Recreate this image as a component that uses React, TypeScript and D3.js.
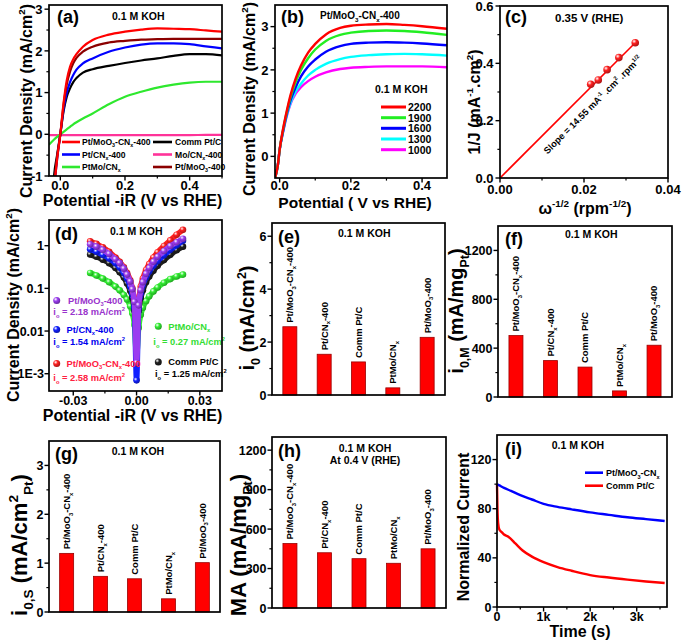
import React from "react";
import * as d3 from "d3";

const FONT = "'Liberation Sans', Arial, Helvetica, sans-serif";

// ---------------- (a) LSV, 0.1 M KOH ----------------
const aPotential = [-0.035, -0.02, -0.01, 0, 0.01, 0.02, 0.03, 0.04, 0.05, 0.07, 0.1, 0.15, 0.2, 0.25, 0.3, 0.35, 0.4, 0.45, 0.5];
const aPtMoO3CNx = [-3, -1.4, -0.6, 0, 0.75, 1.3, 1.62, 1.8, 1.92, 2.1, 2.26, 2.39, 2.46, 2.51, 2.54, 2.53, 2.52, 2.49, 2.46];
const aPtCNx = [-3, -1.4, -0.6, 0, 0.6, 1.0, 1.25, 1.42, 1.55, 1.7, 1.82, 1.98, 2.08, 2.15, 2.18, 2.18, 2.16, 2.11, 2.06];
const aPtMoCNx = [-0.25, -0.13, -0.06, 0, 0.06, 0.12, 0.18, 0.24, 0.29, 0.38, 0.5, 0.72, 0.9, 1.02, 1.12, 1.19, 1.24, 1.26, 1.26];
const aCommPtC = [-3.5, -1.05, -0.5, 0, 0.55, 0.9, 1.1, 1.25, 1.35, 1.48, 1.56, 1.64, 1.71, 1.77, 1.82, 1.88, 1.92, 1.92, 1.89];
const aMoCNx = [-0.02, -0.02, -0.02, -0.02, -0.02, -0.02, -0.02, -0.02, -0.02, -0.02, -0.02, -0.02, -0.02, -0.02, -0.02, -0.02, -0.02, -0.015, -0.015];
const aPtMoO3 = [-3, -1.3, -0.55, 0, 0.7, 1.2, 1.5, 1.7, 1.83, 1.98, 2.1, 2.2, 2.24, 2.27, 2.28, 2.29, 2.29, 2.29, 2.29];

// ---------------- (b) rotation rates ----------------
const bPotential = [-0.013, -0.005, 0.0, 0.01, 0.02, 0.03, 0.045, 0.06, 0.08, 0.1, 0.13, 0.17, 0.2, 0.25, 0.3, 0.35, 0.4, 0.47];
const b2200 = [-0.5, -0.2, 0.15, 0.65, 1.05, 1.4, 1.8, 2.1, 2.4, 2.6, 2.82, 2.97, 3.02, 3.05, 3.06, 3.04, 3.01, 2.95];
const b1900 = [-0.5, -0.2, 0.15, 0.63, 1.02, 1.35, 1.72, 2.0, 2.27, 2.47, 2.67, 2.81, 2.86, 2.9, 2.91, 2.9, 2.87, 2.81];
const b1600 = [-0.5, -0.2, 0.15, 0.6, 0.98, 1.28, 1.6, 1.85, 2.08, 2.24, 2.42, 2.55, 2.6, 2.63, 2.64, 2.63, 2.61, 2.57];
const b1300 = [-0.5, -0.2, 0.15, 0.58, 0.95, 1.22, 1.5, 1.68, 1.87, 2.0, 2.14, 2.25, 2.3, 2.34, 2.36, 2.37, 2.36, 2.33];
const b1000 = [-0.5, -0.2, 0.15, 0.57, 0.93, 1.2, 1.45, 1.6, 1.74, 1.84, 1.94, 2.02, 2.05, 2.07, 2.08, 2.08, 2.08, 2.06];
const bRates = ["2200", "1900", "1600", "1300", "1000"];

// ---------------- (c) K-L plot ----------------
const cOmega = [0.0216, 0.0234, 0.0255, 0.0283, 0.0322];
const cInvJ = [0.327, 0.342, 0.378, 0.42, 0.472];
const cFitX = [0, 0.0322];
const cFitY = [0, 0.472];

// ---------------- (d) micro-polarization ----------------
const dPotential = [-0.022, -0.019, -0.016, -0.013, -0.01, -0.008, -0.006, -0.0045, -0.003, -0.002, -0.001, 0, 0.001, 0.002, 0.003, 0.0045, 0.006, 0.008, 0.01, 0.013, 0.016, 0.019, 0.022];
const dPtMoO3CNx = [1.27, 1.1, 0.92, 0.72, 0.53, 0.42, 0.31, 0.23, 0.155, 0.1, 0.05, 0.012, 0.05, 0.11, 0.17, 0.27, 0.37, 0.53, 0.7, 0.98, 1.33, 1.8, 2.35];
const dPtMoO3 = [1.08, 0.95, 0.8, 0.64, 0.48, 0.39, 0.29, 0.21, 0.145, 0.095, 0.048, 0.0018, 0.04, 0.09, 0.14, 0.22, 0.3, 0.42, 0.55, 0.75, 0.98, 1.2, 1.45];
const dPtCNx = [0.82, 0.72, 0.61, 0.5, 0.39, 0.31, 0.23, 0.17, 0.11, 0.075, 0.035, 0.0007, 0.035, 0.075, 0.12, 0.18, 0.25, 0.34, 0.44, 0.6, 0.8, 1.03, 1.3];
const dCommPtC = [0.62, 0.55, 0.47, 0.39, 0.3, 0.24, 0.18, 0.13, 0.088, 0.06, 0.03, 0.006, 0.03, 0.06, 0.09, 0.14, 0.19, 0.26, 0.34, 0.46, 0.61, 0.78, 0.95];
const dPtMoCNx = [0.23, 0.2, 0.17, 0.14, 0.11, 0.09, 0.07, 0.055, 0.038, 0.026, 0.014, 0.0027, 0.012, 0.024, 0.035, 0.05, 0.065, 0.085, 0.105, 0.135, 0.165, 0.19, 0.21];

// ---------------- bar panels ----------------
const barCats = ["Pt/MoO3-CNx-400", "Pt/CNx-400", "Comm Pt/C", "PtMo/CNx", "Pt/MoO3-400"];
const eI0 = [2.58, 1.54, 1.25, 0.27, 2.18];
const fI0M = [503, 298, 245, 50, 424];
const gI0S = [1.2, 0.73, 0.68, 0.27, 1.01];
const hMA = [490, 420, 375, 340, 450];

// ---------------- (i) chronoamperometry ----------------
const iTimeBlue = [0, 50, 150, 300, 500, 750, 1000, 1300, 1600, 2000, 2400, 2800, 3200, 3600];
const iPtMoO3CNx = [100, 99, 97, 94.5, 91, 87.5, 84, 81.5, 79.5, 77, 75, 73, 71.5, 70];
const iTimeRed = [0, 10, 25, 50, 100, 150, 250, 400, 550, 750, 1000, 1300, 1600, 2000, 2400, 2800, 3200, 3600];
const iCommPtC = [100, 80, 68, 63, 61, 59, 57, 51.5, 46, 41, 36.5, 32.5, 29.5, 26, 24, 22.3, 20.8, 19.5];

type Part = [string, string?];

function rich(parts: Part[], fs: number) {
  let cur = 0;
  return parts.map(([t, k], i) => {
    const target = k === "b" ? fs * 0.28 : k === "p" ? -fs * 0.42 : 0;
    const dy = target - cur;
    cur = target;
    return (
      <tspan key={i} dy={dy} fontSize={k ? fs * 0.62 : fs}>
        {t}
      </tspan>
    );
  });
}

function label(name: string): Part[] {
  const map: Record<string, Part[]> = {
    "Pt/MoO3-CNx-400": [["Pt/MoO"], ["3", "b"], ["-CN"], ["x", "b"], ["-400"]],
    "Pt/CNx-400": [["Pt/CN"], ["x", "b"], ["-400"]],
    "Comm Pt/C": [["Comm Pt/C"]],
    "PtMo/CNx": [["PtMo/CN"], ["x", "b"]],
    "Pt/MoO3-400": [["Pt/MoO"], ["3", "b"], ["-400"]],
    "Mo/CNx-400": [["Mo/CN"], ["x", "b"], ["-400"]],
    "Pt/MoO3-CNx": [["Pt/MoO"], ["3", "b"], ["-CN"], ["x", "b"]],
  };
  return map[name] || [[name]];
}

function Frame(p: any) {
  const { L, R, T, B, xs, ys, xTicks = [], xMinor = [], yTicks = [], yMinor = [], xFmt, yFmt, tk = 13, gap = 6.5, xgap = 13.5 } = p;
  return (
    <g>
      {yMinor.map((v: number, i: number) => (
        <line key={"ym" + i} x1={L - 2.6} x2={L} y1={ys(v)} y2={ys(v)} stroke="#000" strokeWidth={1.2} />
      ))}
      {yTicks.map((v: number, i: number) => (
        <g key={"y" + i}>
          <line x1={L - 4.5} x2={L} y1={ys(v)} y2={ys(v)} stroke="#000" strokeWidth={1.4} />
          <text x={L - gap} y={ys(v)} dy="0.36em" textAnchor="end" fontSize={tk} fontWeight="bold">
            {yFmt ? yFmt(v) : String(v)}
          </text>
        </g>
      ))}
      {xMinor.map((v: number, i: number) => (
        <line key={"xm" + i} x1={xs(v)} x2={xs(v)} y1={B} y2={B + 2.6} stroke="#000" strokeWidth={1.2} />
      ))}
      {xTicks.map((v: number, i: number) => (
        <g key={"x" + i}>
          <line x1={xs(v)} x2={xs(v)} y1={B} y2={B + 4.5} stroke="#000" strokeWidth={1.4} />
          <text x={xs(v)} y={B + xgap} textAnchor="middle" fontSize={tk} fontWeight="bold">
            {xFmt ? xFmt(v) : String(v)}
          </text>
        </g>
      ))}
      <rect x={L} y={T} width={R - L} height={B - T} fill="none" stroke="#000" strokeWidth={1.7} />
    </g>
  );
}

function YTitle({ x, y, parts, fs = 16 }: any) {
  return (
    <text transform={`translate(${x},${y}) rotate(-90)`} textAnchor="middle" fontSize={fs} fontWeight="bold">
      {rich(parts, fs)}
    </text>
  );
}

function XTitle({ x, y, parts, fs = 16 }: any) {
  return (
    <text x={x} y={y} textAnchor="middle" fontSize={fs} fontWeight="bold">
      {rich(parts, fs)}
    </text>
  );
}

function lineOf(xs: any, ys: any, X: number[], Y: number[]) {
  const pts = X.map((x, i) => [x, Y[i]] as [number, number]);
  return d3
    .line<[number, number]>()
    .x((d) => xs(d[0]))
    .y((d) => ys(d[1]))
    .curve(d3.curveMonotoneX)(pts) as string;
}

function BarPanel(p: any) {
  const { L, R, T, B, max, yTicks, yMinor, values, letter, letterPos, head } = p;
  const ys = d3.scaleLinear().domain([0, max]).range([B, T]);
  const xs = d3.scalePoint<string>().domain(barCats).range([L, R]).padding(0.52);
  const bw = 14;
  const fs = 9.5;
  return (
    <g>
      {values.map((v: number, i: number) => {
        const cx = xs(barCats[i]) as number;
        return (
          <g key={i}>
            <rect x={cx - bw / 2} y={ys(v)} width={bw} height={B - ys(v)} fill="#ff0000" stroke="#9a0000" strokeWidth={0.8} />
            <text transform={`translate(${cx + fs * 0.36},${ys(v) - 4}) rotate(-90)`} fontSize={fs} fontWeight="bold">
              {rich(label(barCats[i]), fs)}
            </text>
          </g>
        );
      })}
      <Frame L={L} R={R} T={T} B={B} ys={ys} yTicks={yTicks} yMinor={yMinor} tk={12.5} gap={5.5} />
      <text x={letterPos[0]} y={letterPos[1]} fontSize={18} fontWeight="bold">{letter}</text>
      {head}
    </g>
  );
}

function Gradients() {
  const cols: [string, string][] = [
    ["red", "#ff2020"],
    ["purple", "#9b3cf0"],
    ["blue", "#1020ff"],
    ["black", "#202020"],
    ["green", "#33ee33"],
  ];
  return (
    <defs>
      {cols.map(([id, c]) => (
        <radialGradient key={id} id={"ball-" + id} cx="0.35" cy="0.32" r="0.75">
          <stop offset="0" stopColor="#ffffff" stopOpacity={0.95} />
          <stop offset="0.38" stopColor={c} />
          <stop offset="1" stopColor={(d3.color(c) as any).darker(1.3).formatHex()} />
        </radialGradient>
      ))}
      <clipPath id="clipA">
        <rect x={49} y={5} width={173} height={171} />
      </clipPath>
      <clipPath id="clipB">
        <rect x={275} y={5} width={172} height={173} />
      </clipPath>
    </defs>
  );
}

function PanelA() {
  const L = 49, R = 222, T = 5, B = 176;
  const xs = d3.scaleLinear().domain([-0.035, 0.5]).range([L, R]);
  const ys = d3.scaleLinear().domain([-1, 3.1]).range([B, T]);
  const series: [number[], string][] = [
    [aMoCNx, "#ff3399"],
    [aPtMoCNx, "#2ee82e"],
    [aCommPtC, "#000000"],
    [aPtCNx, "#0000ff"],
    [aPtMoO3, "#8b0000"],
    [aPtMoO3CNx, "#ff0000"],
  ];
  const legL: [string, string][] = [["Pt/MoO3-CNx-400", "#ff0000"], ["Pt/CNx-400", "#0000ff"], ["PtMo/CNx", "#2ee82e"]];
  const legR: [string, string][] = [["Comm Pt/C", "#000000"], ["Mo/CNx-400", "#ff3399"], ["Pt/MoO3-400", "#8b0000"]];
  const rows = [142, 154.5, 167];
  const lf = 8.6;
  return (
    <g>
      <g clipPath="url(#clipA)">
        {series.map(([Y, c], i) => (
          <path key={i} d={lineOf(xs, ys, aPotential, Y)} fill="none" stroke={c} strokeWidth={2.2} />
        ))}
      </g>
      {legL.map(([n, c], i) => (
        <g key={"l" + i}>
          <line x1={62} x2={80} y1={rows[i]} y2={rows[i]} stroke={c} strokeWidth={2.6} />
          <text x={82} y={rows[i] + 3} fontSize={lf} fontWeight="bold">{rich(label(n), lf)}</text>
        </g>
      ))}
      {legR.map(([n, c], i) => (
        <g key={"r" + i}>
          <line x1={153} x2={172} y1={rows[i]} y2={rows[i]} stroke={c} strokeWidth={2.6} />
          <text x={175} y={rows[i] + 3} fontSize={lf} fontWeight="bold">{rich(label(n), lf)}</text>
        </g>
      ))}
      <Frame L={L} R={R} T={T} B={B} xs={xs} ys={ys} xTicks={[0, 0.2, 0.4]} xMinor={[0.1, 0.3, 0.5]} yTicks={[-1, 0, 1, 2, 3]} yMinor={[-0.5, 0.5, 1.5, 2.5]} xFmt={(v: number) => v.toFixed(1)} />
      <text x={57} y={23} fontSize={18} fontWeight="bold">(a)</text>
      <text x={112} y={20} fontSize={10.5} fontWeight="bold">0.1 M KOH</text>
      <YTitle x={32} y={101} parts={[["Current Density (mA/cm"], ["2", "p"], [")"]]} />
      <XTitle x={132.5} y={206} parts={[["Potential -iR (V vs RHE)"]]} />
    </g>
  );
}

function PanelB() {
  const L = 275, R = 447, T = 5, B = 178;
  const xs = d3.scaleLinear().domain([-0.013, 0.47]).range([L, R]);
  const ys = d3.scaleLinear().domain([-0.5, 3.5]).range([B, T]);
  const series: [number[], string][] = [
    [b2200, "#ff0000"],
    [b1900, "#22ee22"],
    [b1600, "#0000ff"],
    [b1300, "#00ffff"],
    [b1000, "#ff00ff"],
  ];
  const rows = [107, 117.7, 128.3, 139, 149.7];
  return (
    <g>
      <g clipPath="url(#clipB)">
        {series.slice().reverse().map(([Y, c], i) => (
          <path key={i} d={lineOf(xs, ys, bPotential, Y)} fill="none" stroke={c} strokeWidth={2.4} />
        ))}
      </g>
      {series.map(([, c], i) => (
        <g key={i}>
          <line x1={381} x2={406} y1={rows[i]} y2={rows[i]} stroke={c} strokeWidth={3} />
          <text x={408} y={rows[i] + 3.8} fontSize={10.5} fontWeight="bold">{bRates[i]}</text>
        </g>
      ))}
      <text x={375} y={93} fontSize={10.5} fontWeight="bold">0.1 M KOH</text>
      <Frame L={L} R={R} T={T} B={B} xs={xs} ys={ys} xTicks={[0, 0.2, 0.4]} xMinor={[0.1, 0.3]} yTicks={[0, 1, 2, 3]} yMinor={[0.5, 1.5, 2.5]} xgap={12} xFmt={(v: number) => v.toFixed(1)} />
      <text x={281} y={23} fontSize={18} fontWeight="bold">(b)</text>
      <text x={320} y={19} fontSize={10} fontWeight="bold">{rich(label("Pt/MoO3-CNx-400"), 10)}</text>
      <YTitle x={255} y={99} parts={[["Current Density (mA/cm"], ["2", "p"], [")"]]} />
      <XTitle x={355} y={207.5} fs={15.5} parts={[["Potential ( V vs RHE)"]]} />
    </g>
  );
}

function PanelC() {
  const L = 500, R = 668, T = 6, B = 178;
  const xs = d3.scaleLinear().domain([0, 0.04]).range([L, R]);
  const ys = d3.scaleLinear().domain([0, 0.6]).range([B, T]);
  const x0 = xs(cFitX[0]), y0 = ys(cFitY[0]), x1 = xs(cFitX[1]), y1 = ys(cFitY[1]);
  const ang = (Math.atan2(y1 - y0, x1 - x0) * 180) / Math.PI;
  const sf = 9.3;
  return (
    <g>
      <line x1={x0} y1={y0} x2={x1} y2={y1} stroke="#ff0000" strokeWidth={1.6} />
      {cOmega.map((w, i) => (
        <circle key={i} cx={xs(w)} cy={ys(cInvJ[i])} r={3.8} fill="url(#ball-red)" />
      ))}
      <text transform={`translate(595,107) rotate(${ang})`} textAnchor="middle" fontSize={sf} fontWeight="bold">
        {rich([["Slope = 14.55 mA"], ["-1", "p"], [" .cm"], ["2", "p"], [" .rpm"], ["1/2", "p"]], sf)}
      </text>
      <Frame L={L} R={R} T={T} B={B} xs={xs} ys={ys} xTicks={[0, 0.02, 0.04]} xMinor={[0.01, 0.03]} yTicks={[0, 0.2, 0.4, 0.6]} yMinor={[0.1, 0.3, 0.5]} xgap={16} xFmt={(v: number) => v.toFixed(2)} yFmt={(v: number) => v.toFixed(1)} />
      <text x={505} y={23} fontSize={18} fontWeight="bold">(c)</text>
      <text x={555} y={22} fontSize={11.5} fontWeight="bold">0.35 V (RHE)</text>
      <YTitle x={480} y={102} parts={[["1/J (mA"], ["-1", "p"], [".cm"], ["2", "p"], [")"]]} />
      <XTitle x={585} y={213.5} parts={[["ω"], ["-1/2", "p"], [" (rpm"], ["-1/2", "p"], [")"]]} />
    </g>
  );
}

function PanelD() {
  const L = 49, R = 222, T = 220, B = 391;
  const xs = d3.scaleLinear().domain([-0.0415, 0.0405]).range([L, R]);
  const ys = d3.scaleLog().domain([Math.pow(10, -3.405), Math.pow(10, 0.602)]).range([B, T]);
  const series: [number[], string, string][] = [
    [dPtMoCNx, "#33ee33", "green"],
    [dCommPtC, "#202020", "black"],
    [dPtCNx, "#1020ff", "blue"],
    [dPtMoO3CNx, "#ff2020", "red"],
    [dPtMoO3, "#9b3cf0", "purple"],
  ];
  const af = 9.3;
  const notes: [number, number, string, string, string, number, number, string][] = [
    [56.7, 300.5, "purple", "Pt/MoO3-400", "#9933cc", 68, 319, "2.18"],
    [56.7, 329.5, "blue", "Pt/CNx-400", "#0000ee", 66.5, 348.5, "1.54"],
    [56.7, 363.5, "red", "Pt/MoO3-CNx-400", "#ff2040", 66.5, 385, "2.58"],
    [158.3, 326.3, "green", "PtMo/CNx", "#33dd33", 168.3, 348.5, "0.27"],
    [158.3, 362, "black", "Comm Pt/C", "#000000", 168.3, 380.5, "1.25"],
  ];
  const noteX = [53.3, 53.3, 53.3, 153.3, 155];
  return (
    <g>
      {series.map(([Y, c, id], k) => (
        <g key={k}>
          <path d={lineOf(xs, ys, dPotential, Y)} fill="none" stroke={c} strokeWidth={5.5} strokeLinejoin="round" strokeLinecap="round" />
          {dPotential.map((x, i) => (
            <circle key={i} cx={xs(x)} cy={ys(Y[i])} r={3.3} fill={`url(#ball-${id})`} />
          ))}
        </g>
      ))}
      {notes.map(([cx, cy, id, name, tc, tx, iy, val], i) => (
        <g key={"n" + i}>
          <circle cx={cx} cy={cy} r={3.5} fill={`url(#ball-${id})`} />
          <text x={tx} y={cy + 3.3} fontSize={af} fontWeight="bold" fill={tc}>{rich(label(name), af)}</text>
          <text x={noteX[i]} y={iy - 3.6} fontSize={af} fontWeight="bold" fill={tc}>
            {rich([["i"], ["o", "b"], [` = ${val} mA/cm`], ["2", "p"]], af)}
          </text>
        </g>
      ))}
      <Frame
        L={L} R={R} T={T} B={B} xs={xs} ys={ys}
        xTicks={[-0.03, 0, 0.03]} xMinor={[-0.015, 0.015]}
        yTicks={[1, 0.1, 0.01, 0.001]}
        tk={12.5} gap={5}
        xFmt={(v: number) => v.toFixed(2)}
        yFmt={(v: number) => (v === 1 ? "1" : v === 0.1 ? "0.1" : v === 0.01 ? "0.01" : "1E-3")}
      />
      <text x={55} y={240} fontSize={18} fontWeight="bold">(d)</text>
      <text x={110} y={234.5} fontSize={10.5} fontWeight="bold">0.1 M KOH</text>
      <YTitle x={19} y={305} parts={[["Current Density (mA/cm"], ["2", "p"], [")"]]} />
      <XTitle x={132.5} y={421} parts={[["Potential -iR (V vs RHE)"]]} />
    </g>
  );
}

function PanelI() {
  const L = 497, R = 667, T = 435, B = 607;
  const xs = d3.scaleLinear().domain([0, 3650]).range([L, R]);
  const ys = d3.scaleLinear().domain([0, 140]).range([B, T]);
  const lf = 9;
  return (
    <g>
      <path d={lineOf(xs, ys, iTimeRed, iCommPtC)} fill="none" stroke="#ff0000" strokeWidth={2.4} />
      <path d={lineOf(xs, ys, iTimeBlue, iPtMoO3CNx)} fill="none" stroke="#0000ff" strokeWidth={2.4} />
      <line x1={585} x2={603} y1={472.7} y2={472.7} stroke="#0000ff" strokeWidth={2.6} />
      <text x={606} y={476} fontSize={lf} fontWeight="bold">{rich(label("Pt/MoO3-CNx"), lf)}</text>
      <line x1={585} x2={603} y1={485.7} y2={485.7} stroke="#ff0000" strokeWidth={2.6} />
      <text x={606} y={489} fontSize={lf} fontWeight="bold">Comm Pt/C</text>
      <Frame L={L} R={R} T={T} B={B} xs={xs} ys={ys} xTicks={[0, 1000, 2000, 3000]} xMinor={[500, 1500, 2500, 3500]} yTicks={[0, 40, 80, 120]} yMinor={[20, 60, 100]} tk={12.5} gap={5.5} xFmt={(v: number) => (v === 0 ? "0" : v / 1000 + "k")} />
      <text x={505} y={455} fontSize={18} fontWeight="bold">(i)</text>
      <text x={551.7} y={448.5} fontSize={10.5} fontWeight="bold">0.1 M KOH</text>
      <YTitle x={469} y={527} parts={[["Normalized Current"]]} />
      <XTitle x={580} y={637} parts={[["Time (s)"]]} />
    </g>
  );
}

export default function App() {
  return (
    <svg
      width={685}
      height={641}
      viewBox="0 0 685 641"
      style={{ position: "absolute", left: 0, top: 0, background: "#fff" }}
      fontFamily={FONT}
    >
      <Gradients />
      <rect x={0} y={0} width={685} height={641} fill="#fff" />
      <PanelA />
      <PanelB />
      <PanelC />
      <PanelD />
      <BarPanel
        L={272} R={445} T={223} B={395} max={6.5} yTicks={[0, 2, 4, 6]} yMinor={[1, 3, 5]} values={eI0}
        letter="(e)" letterPos={[278, 243]}
        head={<text x={338} y={236.5} fontSize={10.5} fontWeight="bold">0.1 M KOH</text>}
      />
      <YTitle x={254} y={318} fs={20} parts={[["i"], ["0", "b"], [" (mA/cm"], ["2", "p"], [")"]]} />
      <BarPanel
        L={498} R={672} T={226} B={397} max={1400} yTicks={[0, 400, 800, 1200]} yMinor={[200, 600, 1000]} values={fI0M}
        letter="(f)" letterPos={[505, 245]}
        head={<text x={565} y={238} fontSize={10.5} fontWeight="bold">0.1 M KOH</text>}
      />
      <YTitle x={463} y={311} fs={20} parts={[["i"], ["0,M", "b"], [" (mA/mg"], ["Pt", "b"], [")"]]} />
      <BarPanel
        L={49} R={220} T={441} B={612} max={3.5} yTicks={[0, 1, 2, 3]} yMinor={[0.5, 1.5, 2.5]} values={gI0S}
        letter="(g)" letterPos={[55, 460]}
        head={<text x={111.7} y={454.7} fontSize={10.5} fontWeight="bold">0.1 M KOH</text>}
      />
      <YTitle x={27} y={545} fs={22} parts={[["i"], ["0,S", "b"], [" (mA/cm"], ["2", "p"], ["Pt", "b"], [")"]]} />
      <BarPanel
        L={272} R={446} T={437} B={608} max={1300} yTicks={[0, 300, 600, 900, 1200]} yMinor={[150, 450, 750, 1050]} values={hMA}
        letter="(h)" letterPos={[278, 457]}
        head={
          <g>
            <text x={365} y={451.5} textAnchor="middle" fontSize={10.5} fontWeight="bold">0.1 M KOH</text>
            <text x={365} y={463.5} textAnchor="middle" fontSize={10.5} fontWeight="bold">At 0.4 V (RHE)</text>
          </g>
        }
      />
      <YTitle x={246} y={545} fs={22} parts={[["MA (mA/mg"], ["Pt", "b"], [")"]]} />
      <PanelI />
    </svg>
  );
}
